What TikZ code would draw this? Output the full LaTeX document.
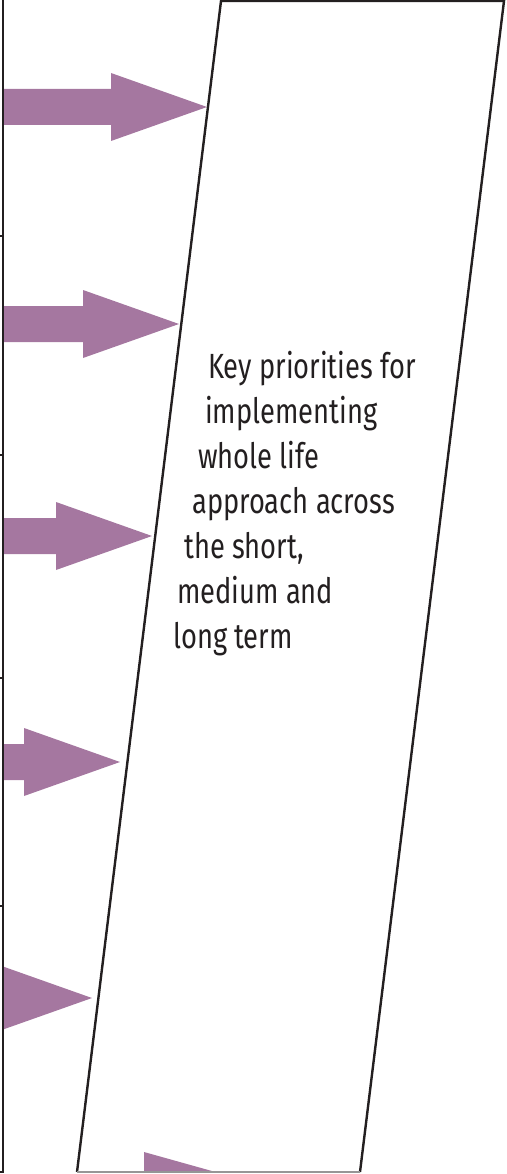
\documentclass[tikz,border=0pt]{standalone}
\usepackage{fontspec}
\setmainfont[FakeStretch=0.78]{Fira Sans}
\definecolor{arrowpurple}{RGB}{165,119,160}
\definecolor{ink}{RGB}{35,31,32}
\definecolor{edgegray}{RGB}{150,150,150}
\begin{document}
\begin{tikzpicture}[x=1pt,y=-1pt,
  frame/.style={draw=ink, line width=2.4pt, line join=miter},
  baseline/.style={draw=edgegray, line width=1.5pt},
  axisline/.style={draw=ink, line width=2.4pt},
  tick/.style={draw=ink, line width=1.5pt},
  label/.style={anchor=base west, inner sep=0pt, font=\fontsize{35}{40}\selectfont, text=ink},
  pics/fatarrow/.style={code={
    \fill[arrowpurple] (-400,-18) -- (-96,-18) -- (-96,-34) -- (0,0) -- (-96,34) -- (-96,18) -- (-400,18) -- cycle;}}]
\useasboundingbox (0,0) rectangle (506,1174);
% parallelogram corners
\coordinate (tl) at (221,1);
\coordinate (tr) at (504,1);
\coordinate (br) at (360,1172);
\coordinate (bl) at (77,1172);
\fill[white] (tl) -- (tr) -- (br) -- (bl) -- cycle;
% arrows
\begin{scope}
  \clip (3,0) rectangle (506,1172);
  \pic at (207,107) {fatarrow};
  \pic at (179,324) {fatarrow};
  \pic at (152,536) {fatarrow};
  \pic at (120,762) {fatarrow};
  \pic at (92,998) {fatarrow};
  \fill[arrowpurple] (144,1152) -- (287,1192) -- (144,1232) -- cycle;
\end{scope}
% parallelogram outline
\draw[frame] (bl) -- (tl) -- (tr) -- (br);
\draw[baseline] (bl) -- (br);
% left axis with ticks
\coordinate (atop) at (3,0);
\coordinate (abot) at (3,1173);
\draw[axisline] (atop) -- (abot);
\foreach \ty in {236,455,678,906,1172} \draw[tick] (0,\ty) -- (4,\ty);
% text
\node[label] (t1) at (208,378) {Key priorities for};
\node[label] (t2) at (205,423) {implementing};
\node[label] (t3) at (198,468) {whole life};
\node[label] (t4) at (192,513) {approach across};
\node[label] (t5) at (184,558) {the short,};
\node[label] (t6) at (177,603) {medium and};
\node[label] (t7) at (173,648) {long term};
\end{tikzpicture}
\end{document}
